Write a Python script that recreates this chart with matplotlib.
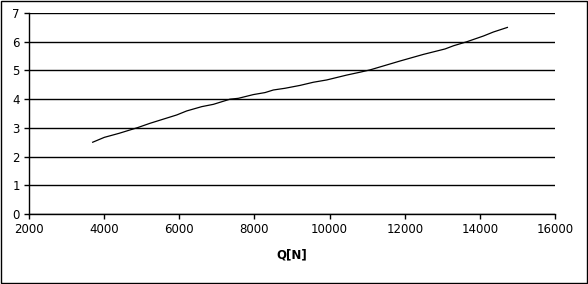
import matplotlib.pyplot as plt
from matplotlib.patches import Rectangle

# data
q = [3695, 4005, 4396, 4893, 5221, 5931, 6197, 6597, 6906, 7350, 7571, 7971,
     8282, 8503, 8814, 9213, 9568, 9924, 10456, 10810, 11076, 11875, 12495,
     13073, 13295, 13650, 14092, 14358, 14731]
val = [2.50, 2.67, 2.81, 3.01, 3.16, 3.45, 3.59, 3.74, 3.82, 4.00, 4.03, 4.16,
       4.23, 4.32, 4.38, 4.48, 4.59, 4.67, 4.84, 4.94, 5.02, 5.33, 5.56,
       5.75, 5.86, 6.00, 6.20, 6.34, 6.50]

x_ticks = [2000, 4000, 6000, 8000, 10000, 12000, 14000, 16000]
y_ticks = [0, 1, 2, 3, 4, 5, 6, 7]

plt.rcParams['font.family'] = 'DejaVu Sans'
fig = plt.figure(figsize=(5.88, 2.84), dpi=100)
ax = fig.add_axes([0.0493, 0.2465, 0.8947, 0.7075])

ax.plot(q, val, color='black', lw=0.9)

ax.set_xlim(2000, 16000)
ax.set_ylim(0, 7)
ax.set_xticks(x_ticks)
ax.set_yticks(y_ticks)
ax.grid(axis='y', color='black', lw=1)
ax.set_axisbelow(True)
for s in ['top', 'right']:
    ax.spines[s].set_visible(False)
for s in ['left', 'bottom']:
    ax.spines[s].set_linewidth(1)
ax.tick_params(labelsize=8.5, length=3.5, width=1)
ax.tick_params(axis='x', pad=3)
ax.tick_params(axis='y', pad=3)
ax.set_xlabel('Q[N]', fontsize=8.5, fontweight='bold', labelpad=9)

# outer chart border
fig.patches.append(Rectangle((0.001, 0.002), 0.997, 0.995, transform=fig.transFigure,
                             fill=False, ec='black', lw=1))

fig.savefig('out.png', dpi=100)
